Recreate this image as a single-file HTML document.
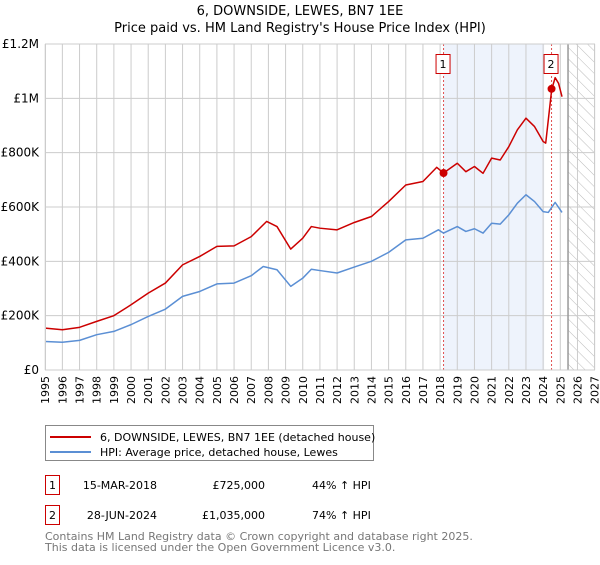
<!DOCTYPE html>
<html><head><meta charset="utf-8"><style>
body{margin:0;background:#fff;font-family:"Liberation Sans","DejaVu Sans",sans-serif;}
svg text{font-family:"DejaVu Sans","Liberation Sans",sans-serif;}
</style></head><body>
<svg width="600" height="560" viewBox="0 0 600 560" xmlns="http://www.w3.org/2000/svg">
<defs><pattern id="hatch" width="8" height="8" patternUnits="userSpaceOnUse" patternTransform="rotate(-45)"><rect width="8" height="8" fill="#fff"/><line x1="0" y1="0" x2="0" y2="8" stroke="#bbb" stroke-width="1"/></pattern></defs>
<text x="300" y="15" text-anchor="middle" font-size="13">6, DOWNSIDE, LEWES, BN7 1EE</text>
<text x="300" y="32" text-anchor="middle" font-size="13">Price paid vs. HM Land Registry's House Price Index (HPI)</text>
<g id="plot"></g>
<g>
<rect x="45.5" y="425.5" width="328" height="35" fill="#fff" stroke="#888"/>
<line x1="50" y1="437" x2="91" y2="437" stroke="#cc0000" stroke-width="2"/>
<text x="100" y="441" font-size="11">6, DOWNSIDE, LEWES, BN7 1EE (detached house)</text>
<line x1="50" y1="452" x2="91" y2="452" stroke="#5b8fd4" stroke-width="2"/>
<text x="100" y="456" font-size="11">HPI: Average price, detached house, Lewes</text>
</g>
<g font-size="11">
<rect x="45.5" y="475.5" width="14" height="19" fill="#fff" stroke="#cc0000"/>
<text x="52.5" y="489" text-anchor="middle">1</text>
<text x="157" y="489" text-anchor="end">15-MAR-2018</text>
<text x="265" y="489" text-anchor="end">£725,000</text>
<text x="312" y="489">44% ↑ HPI</text>
<rect x="45.5" y="505.5" width="14" height="19" fill="#fff" stroke="#cc0000"/>
<text x="52.5" y="519" text-anchor="middle">2</text>
<text x="157" y="519" text-anchor="end">28-JUN-2024</text>
<text x="265" y="519" text-anchor="end">£1,035,000</text>
<text x="312" y="519">74% ↑ HPI</text>
</g>
<text x="45" y="540" font-size="11" fill="#777">Contains HM Land Registry data © Crown copyright and database right 2025.</text>
<text x="45" y="551" font-size="11" fill="#777">This data is licensed under the Open Government Licence v3.0.</text>
</svg>
<script>
const yTicks=[0,200000,400000,600000,800000,1000000,1200000];
const yTickLabels=["£0","£200K","£400K","£600K","£800K","£1M","£1.2M"];
const years=[1995,1996,1997,1998,1999,2000,2001,2002,2003,2004,2005,2006,2007,2008,2009,2010,2011,2012,2013,2014,2015,2016,2017,2018,2019,2020,2021,2022,2023,2024,2025,2026,2027];
const redX=[1995,1996,1997,1998,1999,2000,2001,2002,2003,2004,2005,2006,2007,2007.9,2008.5,2009.3,2010,2010.5,2011,2012,2013,2014,2015,2016,2017,2017.8,2018.2,2019,2019.5,2020,2020.5,2021,2021.5,2022,2022.5,2023,2023.5,2024,2024.15,2024.5,2024.7,2024.9,2025.1];
const redY=[154,148,157,179,200,240,283,320,387,418,455,457,491,547,528,445,485,528,522,516,543,565,620,681,694,746,725,761,730,749,724,780,773,822,884,927,896,841,835,1033,1076,1055,1006];
const blueX=[1995,1996,1997,1998,1999,2000,2001,2002,2003,2004,2005,2006,2007,2007.7,2008.5,2009.3,2010,2010.5,2011,2012,2013,2014,2015,2016,2017,2017.9,2018.2,2019,2019.5,2020,2020.5,2021,2021.5,2022,2022.5,2023,2023.5,2024,2024.3,2024.7,2025.1];
const blueY=[105,102,109,130,142,167,197,224,271,289,317,320,347,381,369,308,338,371,366,357,379,400,433,479,485,516,504,528,510,520,504,540,537,571,614,645,620,583,580,617,580];
const sales=[[2018.2,725000,"1"],[2024.49,1035000,"2"]];
const NS="http://www.w3.org/2000/svg";
const X=y=>45.2+(y-1995)*17.17, Y=v=>370-v/1200000*326;
const g=document.getElementById('plot');
function mk(t,a,p){const e=document.createElementNS(NS,t);for(const k in a)e.setAttribute(k,a[k]);(p||g).appendChild(e);return e;}
let e=mk('rect',{x:X(2018.2),y:Y(1200000),width:X(2024.06)-X(2018.2),height:326,fill:'#eef3fc'});

e=mk('rect',{x:X(2025.45),y:Y(1200000),width:X(2027)-X(2025.45),height:326,fill:'url(#hatch)'});

years.forEach(yr=>{const l=mk('line',{x1:X(yr),x2:X(yr),y1:44,y2:370,stroke:'#ccc'});

const t=mk('text',{x:0,y:0,'font-size':11,'text-anchor':'end',transform:`translate(${X(yr)+4},376) rotate(-90)`});t.textContent=yr;
});
yTicks.forEach((v,i)=>{const l=mk('line',{x1:45,x2:595,y1:Y(v),y2:Y(v),stroke:'#ccc'});

const t=mk('text',{x:39,y:Y(v)+4,'font-size':12,'text-anchor':'end'});t.textContent=yTickLabels[i];
});
e=mk('line',{x1:X(2025.45),x2:X(2025.45),y1:44,y2:370,stroke:'#999','stroke-width':1.5});

sales.forEach(s=>{const l=mk('line',{x1:X(s[0]),x2:X(s[0]),y1:44,y2:370,stroke:'#e05050','stroke-dasharray':'2,2'});

const r=mk('rect',{x:X(s[0])-7.5,y:54.5,width:14,height:19,fill:'#fff',stroke:'#cc0000'});

const t=mk('text',{x:X(s[0])-0.5,y:68,'font-size':11,'text-anchor':'middle'});t.textContent=s[2];
});
function line(xs,ys,c,n){const p=mk('polyline',{points:xs.map((x,i)=>X(x)+','+Y(ys[i]*1000)).join(' '),fill:'none',stroke:c,'stroke-width':1.5,'stroke-linejoin':'round'});
}
line(blueX,blueY,'#5b8fd4','hpi-line');
line(redX,redY,'#cc0000','price-line');
sales.forEach(s=>{const c=mk('circle',{cx:X(s[0]),cy:Y(s[1]),r:4,fill:'#cc0000'});
});
e=mk('rect',{x:45.5,y:44,width:549,height:326,fill:'none',stroke:'#ccc'});

</script>
</body></html>
